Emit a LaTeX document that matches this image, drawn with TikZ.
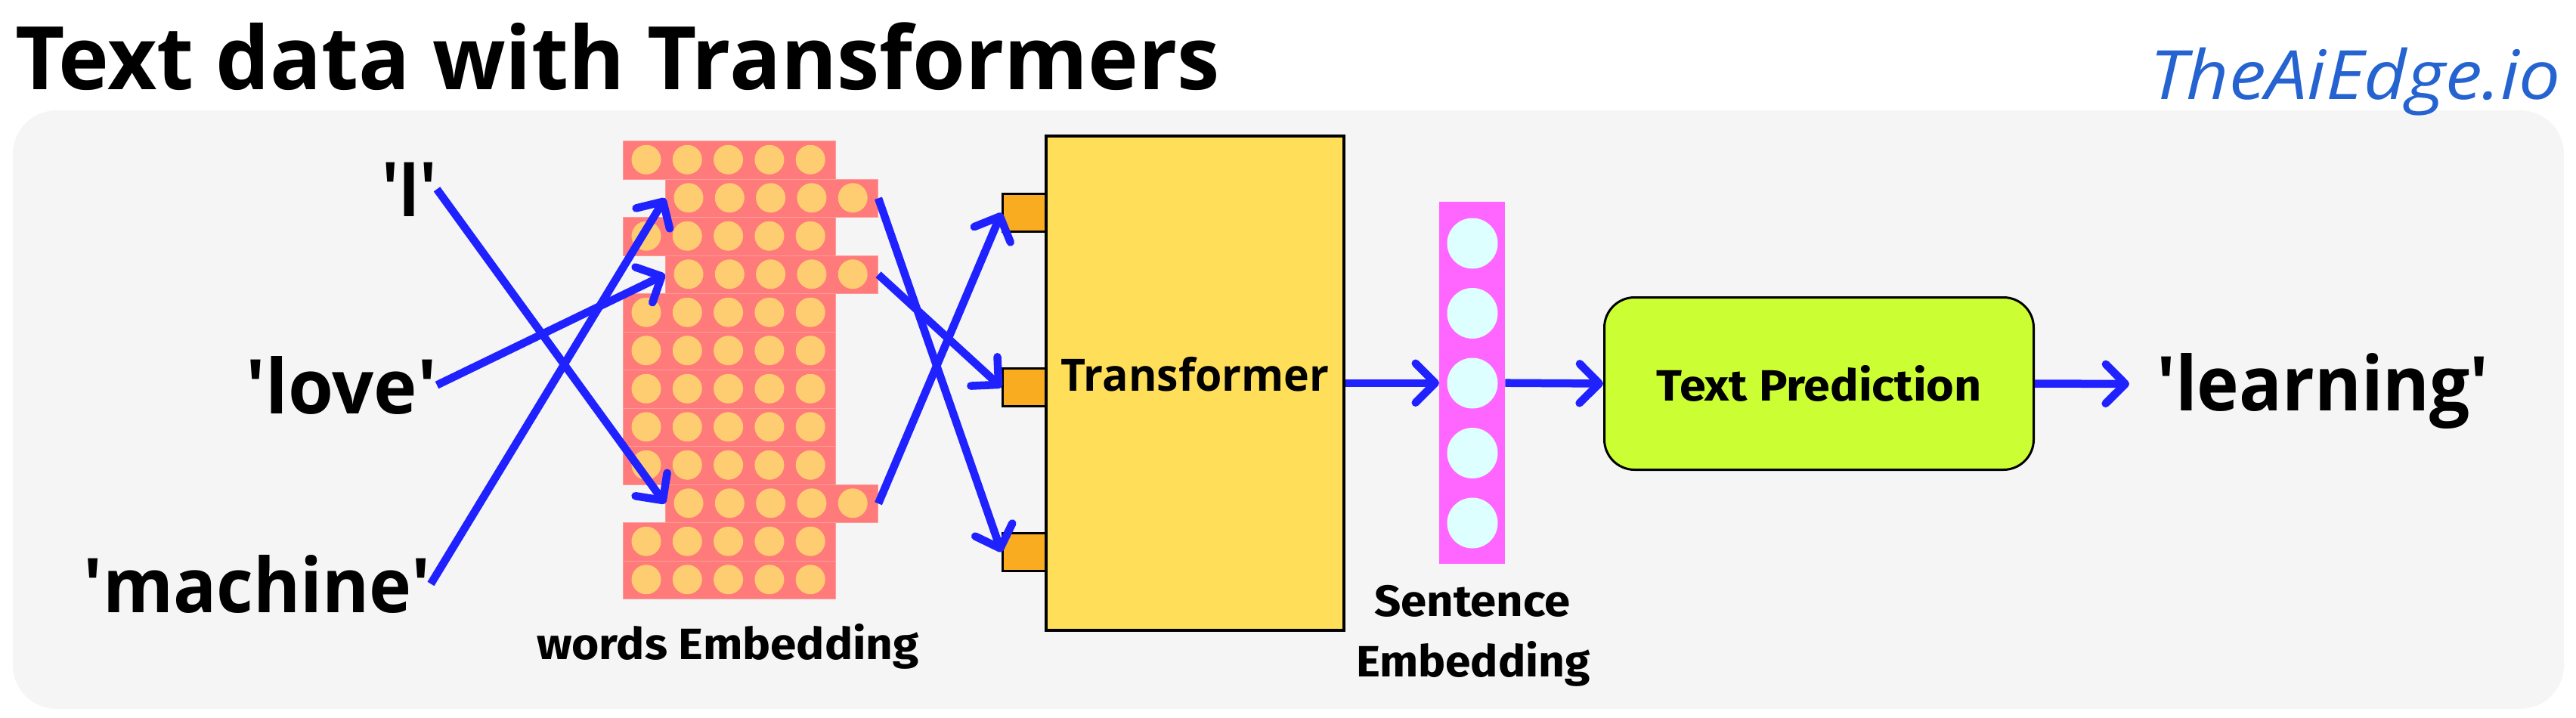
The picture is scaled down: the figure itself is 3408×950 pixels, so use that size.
\documentclass[tikz,border=0pt]{standalone}
\usepackage{fontspec}
\usepackage{graphicx}
\usetikzlibrary{arrows.meta}
\newfontfamily\opensans{Open Sans}
\newfontfamily\lblfont{Fira Sans}
\definecolor{panel}{HTML}{F5F5F5}
\definecolor{arrowblue}{HTML}{1F22FF}
\definecolor{rowred}{HTML}{FF7A7A}
\definecolor{dotyellow}{HTML}{FECD72}
\definecolor{portorange}{HTML}{F9AC1F}
\definecolor{trfill}{HTML}{FFDE59}
\definecolor{pinkbar}{HTML}{FF66FF}
\definecolor{dotcyan}{HTML}{DDFFFF}
\definecolor{limefill}{HTML}{CCFF33}
\definecolor{logoblue}{HTML}{2563D0}
\newcommand{\fitw}[2]{\resizebox{#1}{\height}{#2}}
\begin{document}
\begin{tikzpicture}[x=1pt,y=-1pt,
  txt/.style={inner sep=0pt, outer sep=0pt},
  wordlbl/.style={txt, font=\opensans\bfseries\fontsize{100}{100}\selectfont},
  smalllbl/.style={txt, font=\lblfont\bfseries\fontsize{58}{60}\selectfont},
  arr/.style={draw=arrowblue, line width=10.5pt, -{Straight Barb[length=26pt,width=52pt,round]}},
  rowbox/.style={rectangle, fill=rowred, draw=rowred!75!white, line width=1pt, minimum width=281pt, minimum height=50.5pt, inner sep=0pt, anchor=north west},
  dot/.style={circle, fill=dotyellow, minimum size=39pt, inner sep=0pt},
  port/.style={rectangle, fill=portorange, draw=black, line width=3pt, minimum width=65pt, minimum height=50pt, inner sep=0pt, anchor=north west},
  sdot/.style={circle, fill=dotcyan, minimum size=67pt, inner sep=0pt}
]
\useasboundingbox (0,0) rectangle (3408,950);
\fill[white] (0,0) rectangle (3408,950);
\fill[panel, rounded corners=58pt] (17,146) rectangle (3392,938);

% title and logo
\node[txt, anchor=base west, font=\opensans\bfseries\fontsize{116}{116}\selectfont] (title) at (20,118) {\fitw{1594pt}{Text data with Transformers}};
\node[txt, anchor=base west, text=logoblue, font=\opensans\itshape\fontsize{90}{90}\selectfont] (logo) at (2844,131) {\fitw{544pt}{TheAiEdge.io}};

% words embedding matrix
\foreach \i in {1,...,12}{
  \pgfmathsetmacro{\xo}{(\i==2 || \i==4 || \i==10) ? 880 : 824}
  \pgfmathsetmacro{\yo}{186+50.5*(\i-1)}
  \pgfmathsetmacro{\yc}{\yo+25.25}
  \node[rowbox] (r\i) at (\xo,\yo) {};
  \foreach \k in {0,...,4}{
    \pgfmathsetmacro{\cx}{\xo+31+54.3*\k}
    \node[dot] (r\i d\k) at (\cx,\yc) {};
  }
}
\node[smalllbl, anchor=base west] (wemb) at (710,872) {\fitw{506pt}{words Embedding}};

% input words
\node[wordlbl, anchor=base east] (wI) at (578,286) {\fitw{73pt}{\textquotesingle I\textquotesingle}};
\node[wordlbl, anchor=base east] (wlove) at (578,547) {\fitw{252pt}{\textquotesingle love\textquotesingle}};
\node[wordlbl, anchor=base east] (wmach) at (570,810) {\fitw{459pt}{\textquotesingle machine\textquotesingle}};

% transformer with ports
\node[port] (p1) at (1325,255) {};
\node[port] (p2) at (1325,486) {};
\node[port] (p3) at (1325,704) {};
\node[rectangle, fill=trfill, draw=black, line width=3.5pt, minimum width=394pt, minimum height=654pt, inner sep=0pt, anchor=north west] (tr) at (1382,178) {};
\node[txt, anchor=base, font=\opensans\bfseries\fontsize{59}{59}\selectfont] (trlbl) at (1581,517) {\fitw{355pt}{Transformer}};

% sentence embedding
\node[rectangle, fill=pinkbar, minimum width=87pt, minimum height=479pt, inner sep=0pt, anchor=north west] (sbar) at (1904,267) {};
\foreach \j in {0,...,4}{
  \pgfmathsetmacro{\sy}{322+92.5*\j}
  \node[sdot] (s\j) at (1948,\sy) {};
}
\node[smalllbl, anchor=base] (sel1) at (1948,815) {\fitw{260pt}{Sentence}};
\node[smalllbl, anchor=base] (sel2) at (1949,895) {\fitw{310pt}{Embedding}};

% text prediction
\node[rectangle, rounded corners=40pt, fill=limefill, draw=black, line width=3pt, minimum width=568pt, minimum height=228pt, inner sep=0pt, anchor=north west, font=\lblfont\bfseries\fontsize{58}{58}\selectfont] (tp) at (2121,392) {\fitw{430pt}{Text Prediction}};

% output word
\node[wordlbl, anchor=base west] (lrn) at (2853,543) {\fitw{440pt}{\textquotesingle learning\textquotesingle}};
\coordinate (lend) at (2817,508);

% connectors
\draw[arr] (wI.east) -- (r10.west);
\draw[arr] (wlove.east) -- (r4.west);
\draw[arr] (wmach.east) -- (r2.west);
\draw[arr] (r2.east) -- (p3.west);
\draw[arr] (r4.east) -- (p2.west);
\draw[arr] (r10.east) -- (p1.west);
\draw[arr] (tr.east) -- (tr.east -| sbar.west);
\draw[arr] (sbar.east) -- (tp.west);
\draw[arr] (tp.east) -- (lend);
\end{tikzpicture}
\end{document}
